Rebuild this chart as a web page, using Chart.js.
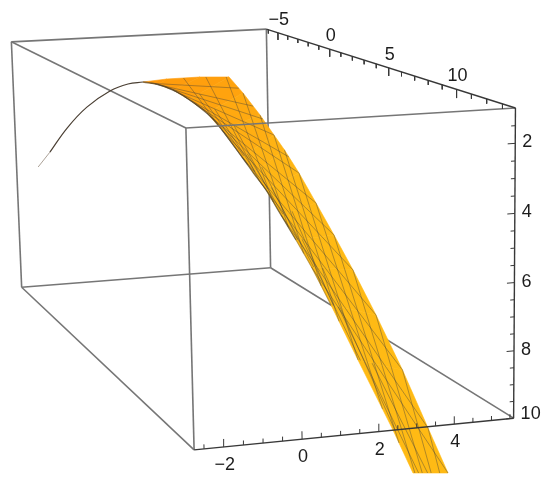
<!doctype html>
<html lang="en">
<head>
<meta charset="UTF-8" />
<title>Surface in a box</title>
<script src="https://cdn.jsdelivr.net/npm/chart.js"></script>
<style>
  body { margin: 0; background: #fff; }
  canvas { display: block; }
</style>
</head>
<body>
<canvas id="plot" width="550" height="481"></canvas>
<script>
// box ranges
const xRange = [-2.75, 5.6];
const yRange = [-6.2, 13.8];
const zRange = [1, 10];

// tick values and labels on the three drawn axes
const xTicks = [-2.5, -2, -1.5, -1, -0.5, 0, 0.5, 1, 1.5, 2, 2.5, 3, 3.5, 4, 4.5, 5, 5.5];
const yTicks = [-6, -5, -4, -3, -2, -1, 0, 1, 2, 3, 4, 5, 6, 7, 8, 9, 10, 11, 12, 13];
const zTicks = [1.5, 2, 2.5, 3, 3.5, 4, 4.5, 5, 5.5, 6, 6.5, 7, 7.5, 8, 8.5, 9, 9.5, 10];
const xLabels = [-2, 0, 2, 4];
const yLabels = [-5, 0, 5, 10];
const zLabels = [2, 4, 6, 8, 10];

// surface edges, station by station
const leftX = [-2.10, -1.92, -1.57, -1.16, -0.67, -0.36, -0.162, 0.022, 0.191, 0.375, 0.603, 0.730, 0.983, 0.990, 1.017, 1.099, 1.170, 1.244, 1.410, 1.757, 2.484, 2.896];
const leftY = [-6, -5, -4, -3, -2, -1, 0, 1, 2, 3, 4, 5, 6, 7, 8, 9, 10, 11, 12, 13, 13.5, 13.8];
const leftZ = [5.55, 4.85, 3.85, 2.99, 2.32, 1.96, 1.770, 1.730, 1.785, 1.966, 2.270, 2.668, 3.375, 3.702, 4.048, 4.627, 5.186, 5.785, 6.696, 8.096, 10.099, 11.331];
const rightX = [-2.10, -1.92, -1.57, -1.16, -0.67, -0.36, -0.162, 0.565, 1.570, 2.458, 2.879, 3.080, 3.179, 3.167, 3.261, 3.417, 3.590, 3.781, 4.072, 4.449, 4.982, 5.436];
const rightY = [-6, -5, -4, -3, -2, -1, 0, 0, 0, 0, 0, 1, 2, 3, 4, 5, 6, 7, 8, 9, 9.5, 9.8];
const rightZ = [5.55, 4.85, 3.85, 2.99, 2.32, 1.96, 1.770, 1.714, 1.708, 1.762, 2.332, 2.947, 3.472, 3.808, 4.401, 5.208, 6.060, 6.988, 8.219, 9.749, 11.513, 12.915];
const bandColors = ["#ff9a0c", "#ff9c0c", "#ff9f0d", "#ffa30e", "#ffa910", "#ffae12", "#ffb313", "#ffb614", "#ffb814", "#ffb914", "#ffba14", "#ffba14", "#ffba14", "#ffba14", "#ffba14"];

// mesh lines: station and across-position (0 left edge, 1 right edge) at both ends
const meshFromStation = [6.5, 6.8, 7, 7.5, 8, 8.7, 9.3, 10, 11, 12, 13.5, 15, 17, 7.5, 8.2, 8.9, 10, 11, 12, 13, 14, 15, 16, 17, 18, 19, 20, 9, 10, 11, 12, 13, 14, 15, 16, 17, 18, 19];
const meshFromAcross = [0, 0, 0, 0, 0, 0, 0, 0, 0, 0, 0, 0, 0, 1, 1, 1, 1, 1, 1, 1, 1, 1, 1, 1, 1, 1, 1, 0.25, 0.2, 0.3, 0.15, 0.25, 0.15, 0.3, 0.15, 0.25, 0.15, 0.3];
const meshToStation = [9.7, 10.6, 11.2, 12, 13.3, 14, 15, 16, 17, 18, 19, 20, 21, 12.5, 13.5, 14.5, 15.5, 16.5, 17.5, 18.3, 19, 19.7, 20.3, 21, 21, 21, 21, 12, 13, 14, 15, 16, 17, 18, 19, 20, 21, 21];
const meshToAcross = [1, 1, 1, 1, 1, 1, 1, 1, 1, 1, 1, 1, 1, 0, 0, 0, 0, 0, 0, 0, 0, 0, 0, 0.05, 0.25, 0.5, 0.75, 0.05, 0.05, 0.05, 0.05, 0.05, 0.05, 0.05, 0.05, 0.05, 0.15, 0.4];

const camera = [
  [263.0776, 128.1619, 10.7881, 11.3827],
  [-11.8176, 54.308, 252.2636, 41.8383],
  [0.0304, -0.2493, 0.0238, 1],
];

function project(x, y, z) {
  const u = (x - xRange[0]) / (xRange[1] - xRange[0]);
  const v = (y - yRange[0]) / (yRange[1] - yRange[0]);
  const w = (z - zRange[0]) / (zRange[1] - zRange[0]);
  const row = (r) => r[0] * u + r[1] * v + r[2] * w + r[3];
  const d = row(camera[2]);
  return { x: row(camera[0]) / d, y: row(camera[1]) / d };
}

function lerp(arr, s) {
  const i = Math.min(Math.floor(s), arr.length - 2);
  return arr[i] + (arr[i + 1] - arr[i]) * (s - i);
}

function surfacePoint(s, r) {
  return project(
    lerp(leftX, s) + (lerp(rightX, s) - lerp(leftX, s)) * r,
    lerp(leftY, s) + (lerp(rightY, s) - lerp(leftY, s)) * r,
    lerp(leftZ, s) + (lerp(rightZ, s) - lerp(leftZ, s)) * r
  );
}

function leftEdge(from, to) {
  const pts = [];
  for (let i = from; i <= to; i++) pts.push(project(leftX[i], leftY[i], leftZ[i]));
  return pts;
}

function line(data, color, width, tension = 0) {
  return {
    data,
    showLine: true,
    fill: false,
    pointRadius: 0,
    borderColor: color,
    borderWidth: width,
    tension,
  };
}

const [x0, x1] = xRange;
const [y0, y1] = yRange;
const [z0, z1] = zRange;
const GRAY = "#767676";
const DARK = "#383838";

// painted in this order, back to front
const painted = [];

// box edges behind the surface
[
  [[x0, y0, z0], [x1, y0, z0]],
  [[x0, y0, z1], [x1, y0, z1]],
  [[x0, y0, z0], [x0, y0, z1]],
  [[x1, y0, z0], [x1, y0, z1]],
  [[x0, y0, z0], [x0, y1, z0]],
  [[x0, y0, z1], [x0, y1, z1]],
  [[x1, y0, z1], [x1, y1, z1]],
  [[x0, y1, z0], [x0, y1, z1]],
].forEach(([a, b]) => painted.push(line([project(...a), project(...b)], GRAY, 1.6)));

// surface bands
bandColors.forEach((color, k) => {
  const i = k + 6;
  const band = line(
    [
      project(leftX[i], leftY[i], leftZ[i]),
      project(leftX[i + 1], leftY[i + 1], leftZ[i + 1]),
      project(rightX[i + 1], rightY[i + 1], rightZ[i + 1]),
      project(rightX[i], rightY[i], rightZ[i]),
      project(leftX[i], leftY[i], leftZ[i]),
    ],
    color,
    0.6
  );
  band.fill = "shape";
  band.backgroundColor = color;
  painted.push(band);
});

// mesh
meshFromStation.forEach((s, i) => {
  painted.push(
    line(
      [surfacePoint(s, meshFromAcross[i]), surfacePoint(meshToStation[i], meshToAcross[i])],
      "rgba(60, 60, 60, 0.5)",
      0.8
    )
  );
});

// thin end of the surface and its dark lower rim
painted.push(line(leftEdge(0, 1), "rgba(90, 70, 50, 0.5)", 1));
painted.push(line(leftEdge(1, 6), "#4a3f33", 1.2, 0.4));
painted.push(line(leftEdge(6, 16), "rgba(55, 50, 40, 0.6)", 1.4, 0.4));
painted.push(line(leftEdge(16, 18), "rgba(55, 50, 40, 0.3)", 1.2, 0.4));

// front edges over the surface
painted.push(line([project(x0, y1, z0), project(x1, y1, z0)], GRAY, 1.6));
painted.push(line([project(x1, y0, z0), project(x1, y1, z0)], DARK, 1.4));
painted.push(line([project(x1, y1, z0), project(x1, y1, z1)], DARK, 1.4));
painted.push(line([project(x0, y1, z1), project(x1, y1, z1)], DARK, 1.4));

// tick marks
xTicks.forEach((t) => {
  const len = t % 2 === 0 ? 0.23 : 0.13;
  painted.push(line([project(t, y1, z1), project(t, y1, z1 - len)], DARK, 1));
});
yTicks.forEach((t) => {
  const len = t % 5 === 0 ? 0.26 : 0.14;
  painted.push(line([project(x1, t, z0), project(x1, t, z0 + len)], DARK, 1));
});
zTicks.forEach((t) => {
  const len = t % 2 === 0 ? 0.2 : 0.11;
  painted.push(line([project(x1, y1, t), project(x1 - len, y1, t)], DARK, 1));
});

const tickText = (v) => (v < 0 ? "\u2212" + Math.abs(v) : String(v));

const labelPlugin = {
  id: "axisLabels",
  afterDatasetsDraw(chart) {
    const ctx = chart.ctx;
    const sx = chart.scales.x;
    const sy = chart.scales.y;
    const put = (v, p, dx, dy, align) => {
      ctx.textAlign = align;
      ctx.fillText(tickText(v), sx.getPixelForValue(p.x) + dx, sy.getPixelForValue(p.y) + dy);
    };
    ctx.save();
    ctx.font = '18px "Liberation Sans", Arial, sans-serif';
    ctx.fillStyle = "#1c1c1c";
    ctx.textBaseline = "middle";
    xLabels.forEach((t) => put(t, project(t, y1, z1), 1, 18, "center"));
    yLabels.forEach((t) => put(t, project(x1, t, z0), 1, -13, "center"));
    zLabels.forEach((t) => put(t, project(x1, y1, t), 7, t === 10 ? -4 : -1, "left"));
    ctx.restore();
  },
};

new Chart(document.getElementById("plot").getContext("2d"), {
  type: "scatter",
  data: { datasets: painted.reverse() }, // Chart.js paints the first dataset last
  options: {
    responsive: false,
    animation: false,
    layout: { padding: 0 },
    plugins: { legend: { display: false }, tooltip: { enabled: false } },
    scales: {
      x: { type: "linear", display: false, min: 0, max: 550 },
      y: { type: "linear", display: false, min: 0, max: 481, reverse: true },
    },
  },
  plugins: [labelPlugin],
});
</script>
</body>
</html>
